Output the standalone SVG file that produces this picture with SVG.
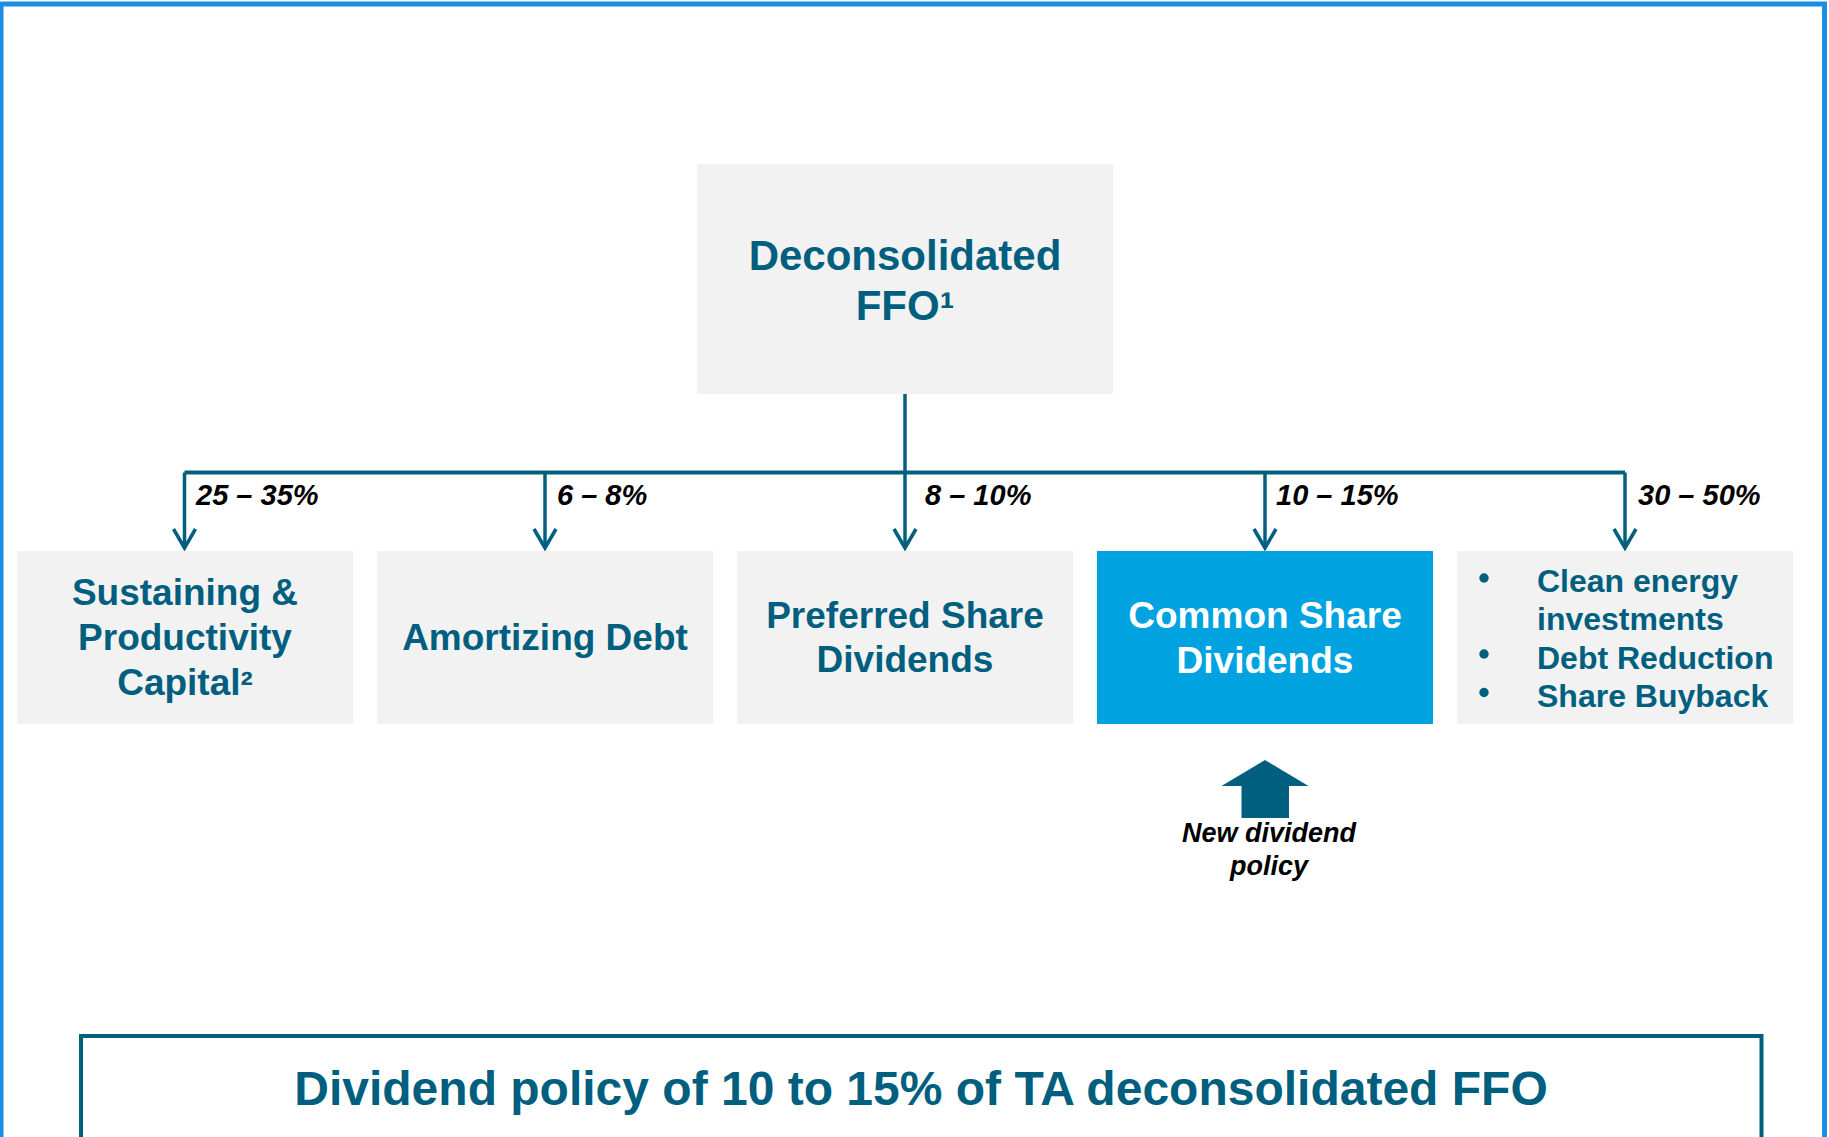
<svg xmlns="http://www.w3.org/2000/svg" width="1829" height="1137" viewBox="0 0 1829 1137">
  <defs>
    <style>
      .box { fill: #F2F2F2; }
      .box-hi { fill: #00A3E0; }
      .lbl { font-family: "Liberation Sans", Arial, sans-serif; font-weight: bold; fill: #005F7F; text-anchor: middle; }
      .lbl-w { fill: #FFFFFF; }
      .pct { font-family: "Liberation Sans", Arial, sans-serif; font-weight: bold; font-style: italic; font-size: 29px; fill: #000000; }
      .note { font-family: "Liberation Sans", Arial, sans-serif; font-weight: bold; font-style: italic; font-size: 27px; fill: #000000; text-anchor: middle; }
      .wire { fill: none; stroke: #005F7F; stroke-width: 3.5; }
      .bus { fill: none; stroke: #005F7F; stroke-width: 4; }
      .bullet { fill: #005F7F; }
    </style>
    <marker id="vhead" markerUnits="userSpaceOnUse" markerWidth="30" markerHeight="30" viewBox="-24 -15 30 30" refX="0" refY="0" orient="auto" overflow="visible">
      <path d="M-19,-11 L0,0 L-19,11" fill="none" stroke="#005F7F" stroke-width="3.5" stroke-linejoin="miter"/>
    </marker>
  </defs>

  <!-- page frame -->
  <rect x="1" y="4" width="1823.5" height="1200" fill="none" stroke="#1B8FE3" stroke-width="5"/>

  <!-- connectors -->
  <g id="connectors">
    <path class="wire" d="M905,394 V472.5"/>
    <path class="bus" d="M184.5,472.5 H1625"/>
    <path class="wire" d="M184.5,472.5 V548" marker-end="url(#vhead)"/>
    <path class="wire" d="M545,472.5 V548" marker-end="url(#vhead)"/>
    <path class="wire" d="M905,472.5 V548" marker-end="url(#vhead)"/>
    <path class="wire" d="M1265,472.5 V548" marker-end="url(#vhead)"/>
    <path class="wire" d="M1625,472.5 V548" marker-end="url(#vhead)"/>
    <text class="pct" x="196" y="505">25 – 35%</text>
    <text class="pct" x="557" y="505">6 – 8%</text>
    <text class="pct" x="925" y="505">8 – 10%</text>
    <text class="pct" x="1276" y="505">10 – 15%</text>
    <text class="pct" x="1638" y="505">30 – 50%</text>
  </g>

  <!-- source node -->
  <g id="node-ffo">
    <rect class="box" x="697" y="164" width="416" height="230"/>
    <text class="lbl" font-size="42" x="905" y="269.5">Deconsolidated</text>
    <text class="lbl" font-size="42" x="905" y="320">FFO<tspan font-size="44" dy="3">¹</tspan></text>
  </g>

  <!-- allocation nodes -->
  <g id="node-sustaining">
    <rect class="box" x="17" y="551" width="336" height="173"/>
    <text class="lbl" font-size="37" x="185" y="605">Sustaining &amp;</text>
    <text class="lbl" font-size="37" x="185" y="650">Productivity</text>
    <text class="lbl" font-size="37" x="185" y="695">Capital<tspan font-size="37" dy="3">²</tspan></text>
  </g>

  <g id="node-amortizing">
    <rect class="box" x="377" y="551" width="336" height="173"/>
    <text class="lbl" font-size="37" x="545" y="650">Amortizing Debt</text>
  </g>

  <g id="node-preferred">
    <rect class="box" x="737" y="551" width="336" height="173"/>
    <text class="lbl" font-size="37" x="905" y="627.5">Preferred Share</text>
    <text class="lbl" font-size="37" x="905" y="672">Dividends</text>
  </g>

  <g id="node-common">
    <rect class="box-hi" x="1097" y="551" width="336" height="173"/>
    <text class="lbl lbl-w" font-size="37" x="1265" y="628">Common Share</text>
    <text class="lbl lbl-w" font-size="37" x="1265" y="672.5">Dividends</text>
  </g>

  <g id="node-other">
    <rect class="box" x="1457" y="551" width="336" height="173"/>
    <circle class="bullet" cx="1484" cy="578" r="4.7"/>
    <circle class="bullet" cx="1484" cy="654" r="4.7"/>
    <circle class="bullet" cx="1484" cy="692.5" r="4.7"/>
    <text class="lbl" font-size="32" style="text-anchor:start" x="1537" y="591.5">Clean energy</text>
    <text class="lbl" font-size="32" style="text-anchor:start" x="1537" y="630">investments</text>
    <text class="lbl" font-size="32" style="text-anchor:start" x="1537" y="668.5">Debt Reduction</text>
    <text class="lbl" font-size="32" style="text-anchor:start" x="1537" y="706.5">Share Buyback</text>
  </g>

  <!-- policy callout -->
  <g id="node-policy">
    <polygon points="1265,760 1308.5,786 1289,786 1289,818 1241.5,818 1241.5,786 1221.5,786" fill="#005F7F"/>
    <text class="note" x="1269" y="842">New dividend</text>
    <text class="note" x="1269" y="875">policy</text>
  </g>

  <!-- summary banner -->
  <g id="node-summary">
    <rect x="81" y="1036" width="1680.5" height="200" fill="none" stroke="#005F7F" stroke-width="4"/>
    <text class="lbl" font-size="48" x="921" y="1105">Dividend policy of 10 to 15% of TA deconsolidated FFO</text>
  </g>
</svg>
